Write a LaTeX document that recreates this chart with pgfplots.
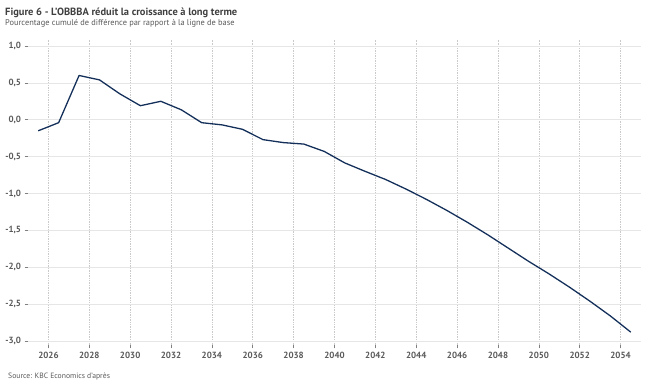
\documentclass[border=0pt]{standalone}
\usepackage{pgfplots}
\pgfplotsset{compat=1.18}
\usepackage{fontspec}
\setmainfont{PT Sans}
\definecolor{navy}{HTML}{14305A}
\definecolor{tgray}{HTML}{595959}
\definecolor{titlegray}{HTML}{404040}
\definecolor{gridh}{HTML}{E6E6E6}
\definecolor{gridv}{HTML}{CACACA}
\pgfplotstableread{
x y
2025.5 -0.15
2026.5 -0.04
2027.5 0.60
2028.5 0.54
2029.5 0.35
2030.5 0.19
2031.5 0.25
2032.5 0.135
2033.5 -0.04
2034.5 -0.07
2035.5 -0.13
2036.5 -0.27
2037.5 -0.31
2038.5 -0.33
2039.5 -0.43
2040.5 -0.585
2041.5 -0.70
2042.5 -0.81
2043.5 -0.94
2044.5 -1.08
2045.5 -1.23
2046.5 -1.39
2047.5 -1.56
2048.5 -1.74
2049.5 -1.92
2050.5 -2.09
2051.5 -2.27
2052.5 -2.46
2053.5 -2.66
2054.5 -2.88
}\datatable
\begin{document}
\begin{tikzpicture}
\useasboundingbox (0,0) rectangle (652bp,388bp);
\node[anchor=base west, inner sep=0, text=titlegray, font=\fontsize{10.5}{12}\selectfont\bfseries] at (5bp,372bp) {Figure 6 - L'OBBBA réduit la croissance à long terme};
\node[anchor=base west, inner sep=0, text=tgray, font=\fontsize{8.4}{10}\selectfont] at (5bp,362.5bp) {Pourcentage cumulé de différence par rapport à la ligne de base};
\node[anchor=base west, inner sep=0, text=tgray, font=\fontsize{7.7}{9}\selectfont] at (8bp,10bp) {Source: KBC Economics d'après};
\begin{axis}[
  at={(28bp,43bp)}, anchor=south west,
  scale only axis, width=613bp, height=305bp,
  xmin=2025, xmax=2055, ymin=-3.054, ymax=1.081,
  xtick={2026,2028,...,2054},
  ytick={-3,-2.5,...,1},
  xticklabel style={/pgf/number format/1000 sep={}},
  yticklabel style={/pgf/number format/.cd, fixed, fixed zerofill, precision=1, use comma},
  /pgf/number format/assume math mode=true,
  ticklabel style={font=\fontsize{9}{10}\selectfont\bfseries, text=tgray},
  xtick pos=lower, ytick pos=left,
  tick align=outside,
  major tick length=3.5bp,
  tick style={draw=gray, line width=0.6pt},
  axis line style={draw=none},
  ymajorgrids, xmajorgrids,
  y grid style={draw=gridh, line width=0.7pt},
  x grid style={draw=gridv, line width=0.6pt, dash pattern=on 0.8pt off 0.9pt},
  clip=false,
]
\addplot[navy, line width=1.3pt, line join=round, no marks] table[x=x,y=y] {\datatable};
\end{axis}
\end{tikzpicture}
\end{document}
